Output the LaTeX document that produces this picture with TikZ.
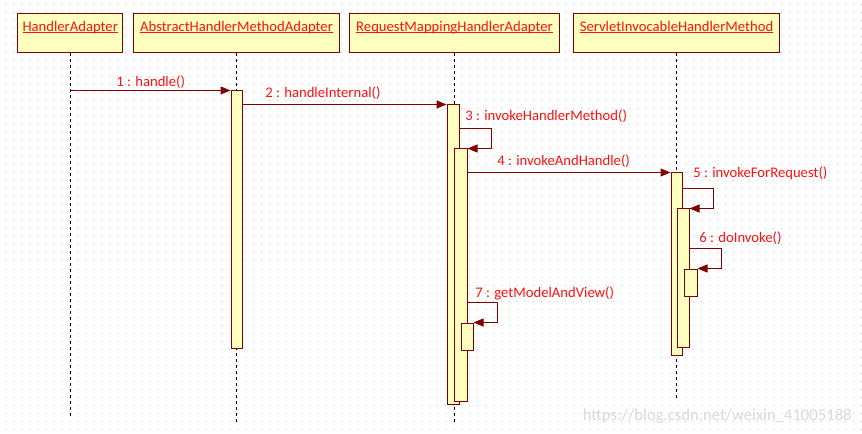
\documentclass[tikz,border=0pt]{standalone}
\usepackage{fontspec}
\setmainfont{Carlito}
\usepackage{tikz}
\usetikzlibrary{arrows.meta,fit,calc}
\definecolor{umlborder}{HTML}{800000}
\definecolor{umlfill}{HTML}{FFFFC0}
\definecolor{umltext}{HTML}{FF1010}
\definecolor{griddot}{HTML}{C4C4C4}
\newcommand\uname[1]{\setbox0\hbox{#1}\rlap{\usebox0}\rule[-1.5pt]{\wd0}{0.75pt}}

\begin{document}
\begin{tikzpicture}[x=0.75pt,y=-0.75pt,
    font=\fontsize{11pt}{13pt}\selectfont,
    head/.style={draw=umlborder,fill=umlfill,line width=0.75pt,anchor=north west,
      inner xsep=3.75pt,inner ysep=0pt,text height=13.5pt,text depth=15.75pt,text=umltext},
    bar/.style={draw=umlborder,fill=umlfill,line width=0.75pt,inner sep=0pt},
    life/.style={line width=0.75pt,dash pattern=on 2.25pt off 2.25pt},
    msg/.style={umlborder,line width=0.75pt,-{Triangle[length=7.5pt,width=6pt]}},
    lbl/.style={text=umltext,anchor=west,inner sep=0pt}]
    \useasboundingbox (0,0) rectangle (862,434);
    \fill[white] (0,0) rectangle (862,434);
    \foreach \j in {0,...,53}
      \draw[griddot,line width=0.75pt,dash pattern=on 0.75pt off 5.25pt] (4.5,5+8*\j) -- (862,5+8*\j);

    \node[head,minimum width=78.75pt] (ha) at (17,13) {\uname{HandlerAdapter}};
    \node[head,minimum width=154.5pt] (ab) at (133,13) {\uname{AbstractHandlerMethodAdapter}};
    \node[head,minimum width=157.5pt] (rm) at (349,13) {\uname{RequestMappingHandlerAdapter}};
    \node[head,minimum width=154.5pt] (sv) at (573,13) {\uname{ServletInvocableHandlerMethod}};

    \draw[life] (ha.south) -- ++(0,364);
    \draw[life] (ab.south) -- ++(0,370);
    \draw[life] (rm.south) -- ++(0,370);
    \draw[life] (sv.south) -- ++(0,345);

    \node[bar, fit={(231,91) (242,348)}] (ab1) {};
    \node[bar, fit={(447,105) (459,404)}] (rm1) {};
    \node[bar, fit={(454,149) (467,401)}] (rm2) {};
    \node[bar, fit={(461,323) (473,350)}] (rm3) {};
    \node[bar, fit={(671,173) (682,355)}] (sv1) {};
    \node[bar, fit={(677,209) (689,347)}] (sv2) {};
    \node[bar, fit={(684,269) (697,296)}] (sv3) {};

    \draw[msg] (ha.south |- ab1.north west) -- (ab1.north west);
    \draw[msg] (ab1.east |- rm1.north west) -- (rm1.north west);
    \draw[msg] ($(rm1.east |- rm2.north)+(0,-20)$) -| ++(32,20) -- (rm2.north east);
    \draw[msg] (rm2.east |- sv1.north west) -- (sv1.north west);
    \draw[msg] ($(sv1.east |- sv2.north)+(0,-20)$) -| ++(31,20) -- (sv2.north east);
    \draw[msg] ($(sv2.east |- sv3.north)+(0,-20)$) -| ++(32,20) -- (sv3.north east);
    \draw[msg] ($(rm2.east |- rm3.north)+(0,-20)$) -| ++(30,20) -- (rm3.north east);

    \node[lbl] (m1) at (116,82) {1 : handle()};
    \node[lbl] (m2) at (265,93) {2 : handleInternal()};
    \node[lbl] (m3) at (465,116) {3 : invokeHandlerMethod()};
    \node[lbl] (m4) at (497,161) {4 : invokeAndHandle()};
    \node[lbl] (m5) at (693,173) {5 : invokeForRequest()};
    \node[lbl] (m6) at (699,238) {6 : doInvoke()};
    \node[lbl] (m7) at (475,293) {7 : getModelAndView()};

    \node[text=gray!30,anchor=east,inner sep=0pt,font=\fontsize{12.5pt}{14pt}\selectfont] (wm) at (852,416) {https://blog.csdn.net/weixin\_41005188};
\end{tikzpicture}
\end{document}
